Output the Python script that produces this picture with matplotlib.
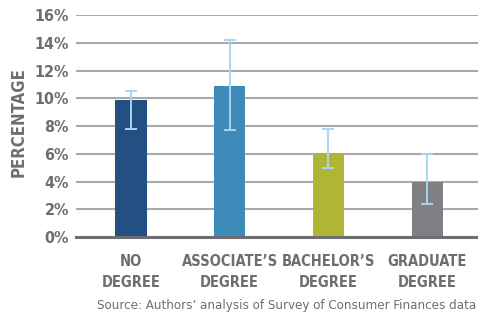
import numpy as np
import matplotlib.pyplot as plt

# data
categories = ['NO\nDEGREE', 'ASSOCIATE\u2019S\nDEGREE', 'BACHELOR\u2019S\nDEGREE', 'GRADUATE\nDEGREE']
values = [9.9, 10.9, 6.05, 4.0]
err_low = [7.8, 7.7, 5.0, 2.4]
err_high = [10.5, 14.2, 7.8, 6.0]
bar_colors = ['#234f82', '#3e8ab8', '#b0b535', '#808084']
yticks = [0, 2, 4, 6, 8, 10, 12, 14, 16]

fnt = 'DejaVu Sans'
gray = '#6d6e71'

fig = plt.figure(figsize=(4.78, 3.16), dpi=100)
ax = fig.add_axes([0.159, 0.25, 0.841, 0.7025])

x = np.arange(len(categories))
vals = np.array(values)
yerr = [vals - np.array(err_low), np.array(err_high) - vals]

ax.bar(x, vals, width=0.315, color=bar_colors, zorder=3)
ax.errorbar(x, vals, yerr=yerr, fmt='none', ecolor='#a9d4f0', elinewidth=1.4,
            capsize=4, capthick=1.4, zorder=4)

ax.set_xlim(-0.557, 3.516)
ax.set_ylim(0, 16)
ax.set_yticks(yticks)
ax.set_yticklabels([f'{t}%' for t in yticks], family=fnt, stretch='condensed',
                   fontweight='bold', fontsize=11.5, color=gray)
ax.yaxis.grid(True, color='#a8a9ac', linewidth=1.5, zorder=0)
ax.tick_params(axis='y', length=0, pad=5)
ax.tick_params(axis='x', length=0, pad=12)
ax.set_xticks(x)
ax.set_xticklabels(categories, family=fnt, stretch='condensed', fontweight='bold',
                   fontsize=10.5, color=gray, linespacing=1.55)

for s in ['top', 'right', 'left']:
    ax.spines[s].set_visible(False)
ax.spines['bottom'].set_color(gray)
ax.spines['bottom'].set_linewidth(2.2)
ax.spines['bottom'].set_zorder(5)

fig.text(0.038, 0.614, 'PERCENTAGE', rotation=90, ha='center', va='center',
         family=fnt, stretch='condensed', fontweight='bold', fontsize=12, color=gray)
fig.text(0.6, 0.032, 'Source: Authors\u2019 analysis of Survey of Consumer Finances data',
         ha='center', va='center', family=fnt, stretch='condensed', fontsize=9.5, color=gray)

plt.savefig('out.png', dpi=100)
